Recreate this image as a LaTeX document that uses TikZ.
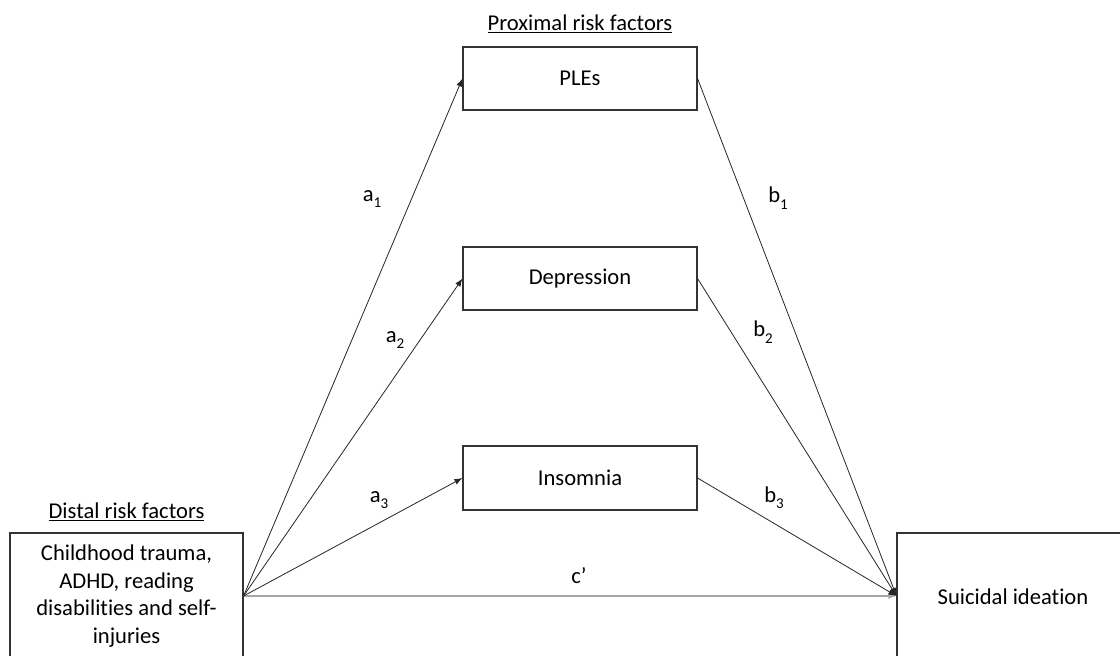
\documentclass[tikz,border=0pt]{standalone}
\usepackage{fontspec}
\setmainfont{Carlito}[Ligatures={NoCommon}]
\usetikzlibrary{arrows.meta}
\tikzset{
  box/.style={draw=black!80, line width=1.1pt, rectangle, inner sep=0pt, align=center, font=\fontsize{22.6}{27.6}\selectfont},
  lbl/.style={inner sep=0pt, font=\fontsize{22.6}{27.6}\selectfont},
  path/.style={draw=black!85, line width=0.8pt, -{Latex[length=8pt,width=6pt]}},
  direct/.style={draw=black!35, line width=1.3pt, -{Latex[length=8pt,width=6pt]}}
}
\newcommand{\subn}[1]{\raisebox{-0.28em}{\fontsize{15}{15}\selectfont #1}}
\begin{document}
\begin{tikzpicture}[x=1pt,y=-1pt]
\useasboundingbox (0,0) rectangle (1120,656);
\clip (0,0) rectangle (1120,656);
\fill[white] (0,0) rectangle (1120,656);

\node[lbl] (prox) at (580,24) {\underline{Proximal risk factors}};
\node[lbl] (distl) at (126.5,512) {\underline{Distal risk factors}};

\node[box, minimum width=234, minimum height=63] (ples) at (580,78.5) {PLEs};
\node[box, minimum width=234, minimum height=63] (dep) at (580,278.5) {Depression};
\node[box, minimum width=234, minimum height=64] (ins) at (580,478) {Insomnia};

\node[box, minimum width=233, minimum height=126] (dist) at (126.5,596)
  {Childhood trauma,\\ADHD, reading\\disabilities and self-\\injuries};
\node[box, minimum width=250, minimum height=126] (suic) at (1022,596) {};
\node[lbl] (suictxt) at (1013,597) {Suicidal ideation};

\draw[direct] (dist.east) -- (suic.west);
\draw[path] (dist.east) -- (ples.west);
\draw[path] (dist.east) -- (dep.west);
\draw[path] (dist.east) -- (ins.west);
\draw[path] (ples.east) -- (suic.west);
\draw[path] (dep.east) -- (suic.west);
\draw[path] (ins.east) -- (suic.west);

\node[lbl] (a1) at (372,199) {a\subn{1}};
\node[lbl] (a2) at (395,340) {a\subn{2}};
\node[lbl] (a3) at (379,500) {a\subn{3}};
\node[lbl] (b1) at (778,198) {b\subn{1}};
\node[lbl] (b2) at (763,332) {b\subn{2}};
\node[lbl] (b3) at (774,498) {b\subn{3}};
\node[lbl] (c) at (579,576) {c’};
\end{tikzpicture}
\end{document}
